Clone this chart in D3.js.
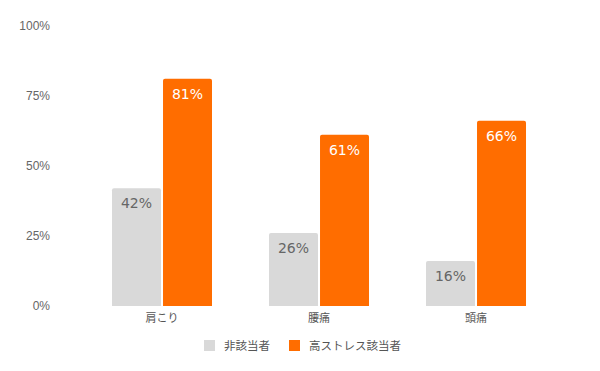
<!DOCTYPE html>
<html>
<head>
<meta charset="utf-8">
<script src="https://cdn.jsdelivr.net/npm/d3@7"></script>
<style>
  body { margin: 0; background: #fff; }
  text { font-family: "Liberation Sans", Arial, "Noto Sans CJK JP", sans-serif; }
</style>
</head>
<body>
<div id="chart"></div>
<script>
// données
const categories = ["肩こり", "腰痛", "頭痛"];
const seriesNames = ["非該当者", "高ストレス該当者"];
const nonStress = [42, 26, 16];
const highStress = [81, 61, 66];
const yTicks = [0, 25, 50, 75, 100];

const colors = ["#d9d9d9", "#ff6d00"];
const labelColors = ["#666666", "#ffffff"];

const W = 600, H = 371;
const svg = d3.select("#chart").append("svg")
  .attr("width", W).attr("height", H);

// échelles
const y = d3.scaleLinear().domain([0, 100]).range([306, 25.4]);
const x0 = d3.scaleBand().domain(categories).range([55, 583]).padding(0.363);
const x1 = d3.scaleBand().domain(seriesNames).range([0, x0.bandwidth()]).paddingInner(0.04);

// axe Y (labels seulement)
svg.append("g")
  .attr("transform", "translate(50,0)")
  .call(d3.axisLeft(y).tickValues(yTicks).tickFormat(d => d + "%").tickSize(0).tickPadding(0))
  .call(g => g.select(".domain").remove())
  .selectAll("text")
    .attr("fill", "#666")
    .style("font-family", "'Liberation Sans', Arial, sans-serif")
    .style("font-size", "12px");

// axe X
svg.append("g")
  .attr("transform", "translate(0,306)")
  .call(d3.axisBottom(x0).tickSize(0).tickPadding(8))
  .call(g => g.select(".domain").remove())
  .selectAll("text")
    .attr("fill", "#555")
    .style("font-family", "'Noto Sans CJK JP', sans-serif")
    .style("font-size", "11px");

const rows = categories.map((c, i) => ({
  cat: c,
  vals: [nonStress[i], highStress[i]]
}));

// barre avec coins arrondis en haut
function topRounded(x, yTop, w, h, r) {
  return `M${x},${yTop + h}V${yTop + r}Q${x},${yTop} ${x + r},${yTop}H${x + w - r}Q${x + w},${yTop} ${x + w},${yTop + r}V${yTop + h}Z`;
}

const groups = svg.append("g").selectAll("g")
  .data(rows)
  .join("g")
    .attr("transform", d => `translate(${x0(d.cat)},0)`);

const bars = groups.selectAll("g")
  .data(d => d.vals.map((v, j) => ({ name: seriesNames[j], v: v, j: j })))
  .join("g");

bars.append("path")
  .attr("d", d => topRounded(x1(d.name), y(d.v), x1.bandwidth(), y(0) - y(d.v), 2))
  .attr("fill", d => colors[d.j]);

bars.append("text")
  .attr("x", d => x1(d.name) + x1.bandwidth() / 2)
  .attr("y", d => y(d.v) + 20)
  .attr("text-anchor", "middle")
  .attr("fill", d => labelColors[d.j])
  .style("font-family", "'DejaVu Sans', sans-serif")
  .style("font-size", "14px")
  .text(d => d.v + "%");

// légende
const legendX = [204, 289];
const legend = svg.append("g").selectAll("g")
  .data(seriesNames)
  .join("g")
    .attr("transform", (d, i) => `translate(${legendX[i]},340)`);

legend.append("rect")
  .attr("width", 11).attr("height", 11)
  .attr("fill", (d, i) => colors[i]);

legend.append("text")
  .attr("x", 20).attr("y", 10)
  .attr("fill", "#555")
  .style("font-family", "'Noto Sans CJK JP', sans-serif")
  .style("font-size", "11.5px")
  .text(d => d);
</script>
</body>
</html>
